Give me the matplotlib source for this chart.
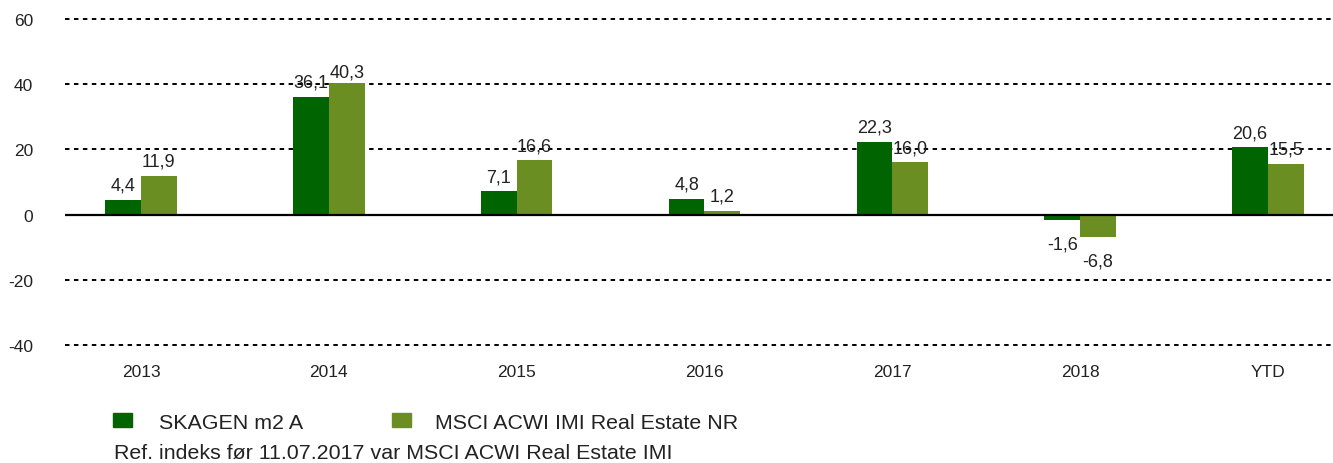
import matplotlib.pyplot as plt
import numpy as np
from matplotlib.patches import Rectangle

plt.rcParams["font.family"] = ["Liberation Sans", "DejaVu Sans"]
plt.rcParams["axes.unicode_minus"] = False

# --- Data ---
categories = ["2013", "2014", "2015", "2016", "2017", "2018", "YTD"]
skagen = [4.4, 36.1, 7.1, 4.8, 22.3, -1.6, 20.6]
msci = [11.9, 40.3, 16.6, 1.2, 16.0, -6.8, 15.5]
series_names = ["SKAGEN m2 A", "MSCI ACWI IMI Real Estate NR"]
yticks = [-40, -20, 0, 20, 40, 60]
footnote = "Ref. indeks før 11.07.2017 var MSCI ACWI Real Estate IMI"

DARK = "#006400"
OLIVE = "#6b8e23"
TXT = "#222222"

fig = plt.figure(figsize=(13.33, 4.64), dpi=100, facecolor="white")
ax = fig.add_axes([65 / 1333, 118 / 464, 1268 / 1333, 326 / 464])

x = np.arange(len(categories))
w = 0.19
ax.bar(x - w / 2, skagen, width=w, color=DARK, zorder=3)
ax.bar(x + w / 2, msci, width=w, color=OLIVE, zorder=3)


def fmt(v):
    return f"{v:.1f}".replace(".", ",")


for xs, vals in ((x - w / 2, skagen), (x + w / 2, msci)):
    for xi, v in zip(xs, vals):
        if v >= 0:
            # tallest bar's label sits a bit closer to the bar
            off = 7.5 if v < 38 else 5
            ax.annotate(fmt(v), (xi, v), xytext=(0, off), textcoords="offset points",
                        ha="center", va="baseline", fontsize=13, color=TXT, zorder=4)
        else:
            ax.annotate(fmt(v), (xi, v), xytext=(0, -11), textcoords="offset points",
                        ha="center", va="top", fontsize=13, color=TXT, zorder=4)

ax.set_xlim(-0.405, 6.347)
ax.set_ylim(-40, 60)
ax.set_yticks(yticks)
ax.set_xticks(x)
ax.set_xticklabels(categories)

for t in yticks:
    ax.axhline(t, color="black" if t else "#aaaaaa", lw=1.4, ls=(0, (2.3, 2.3)),
               zorder=1, clip_on=False)
ax.axhline(0, color="black", lw=1.6, zorder=4)

for s in ax.spines.values():
    s.set_visible(False)
ax.tick_params(axis="both", length=0, labelsize=12.5, colors=TXT)
ax.tick_params(axis="y", pad=23)
ax.tick_params(axis="x", pad=14)

# --- Legend (manual) ---
fig.patches.append(Rectangle((113 / 1333, (464 - 428) / 464), 19 / 1333, 14 / 464,
                             transform=fig.transFigure, color=DARK))
fig.text(159 / 1333, (464 - 424) / 464, series_names[0], fontsize=15.4,
         va="center", ha="left", color=TXT)
fig.patches.append(Rectangle((392 / 1333, (464 - 428) / 464), 19 / 1333, 14 / 464,
                             transform=fig.transFigure, color=OLIVE))
fig.text(435 / 1333, (464 - 424) / 464, series_names[1], fontsize=15.4,
         va="center", ha="left", color=TXT)
fig.text(114 / 1333, (464 - 454) / 464, footnote, fontsize=15.4,
         va="center", ha="left", color=TXT)

fig.savefig("out.png", dpi=100, facecolor="white")
